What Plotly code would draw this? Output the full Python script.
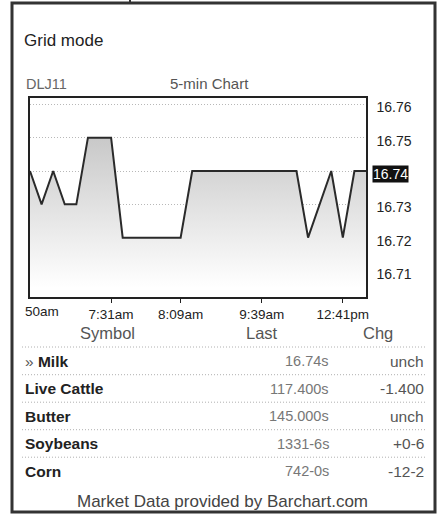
import plotly.graph_objects as go

# ---------------- data ----------------
prices = [16.74, 16.73, 16.74, 16.73, 16.73, 16.75, 16.75, 16.75, 16.72, 16.72,
          16.72, 16.72, 16.72, 16.72, 16.74, 16.74, 16.74, 16.74, 16.74, 16.74,
          16.74, 16.74, 16.74, 16.74, 16.72, 16.73, 16.74, 16.72, 16.74, 16.74]
x_tick_pos = [7, 13, 20, 27]
x_tick_text = ["7:31am", "8:09am", "9:39am", "12:41pm"]
first_tick_text = "50am"
y_ticks = [16.71, 16.72, 16.73, 16.74, 16.75, 16.76]
last_price = 16.74

symbols = ["Milk", "Live Cattle", "Butter", "Soybeans", "Corn"]
selected_symbol = "Milk"
last_vals = ["16.74s", "117.400s", "145.000s", "1331-6s", "742-0s"]
chg_vals = ["unch", "-1.400", "unch", "+0-6", "-12-2"]

# ---------------- layout helpers ----------------
W, H = 443, 522
L, R, T, B = 30, 366, 98, 297
FONT = "Liberation Sans, Arial, sans-serif"


def px(x):
    return (x - L) / (R - L)


def py(y):
    return (B - y) / (B - T)


xs = list(range(len(prices)))

fig = go.Figure()
fig.add_trace(go.Scatter(
    x=xs, y=prices, mode="lines",
    line=dict(color="#2a2a2a", width=2),
    fill="tozeroy",
    fillgradient=dict(type="vertical", start=16.705, stop=16.752,
                      colorscale=[[0, "rgba(255,255,255,1)"], [1, "#c6c6c6"]]),
    hoverinfo="skip", showlegend=False,
))

ann = []
shapes = []

# first (clipped) x label
ann.append(dict(x=0, xref="x", y=0, yref="paper", yshift=-14, xshift=-7,
                text=first_tick_text, showarrow=False, xanchor="left", yanchor="middle",
                font=dict(family=FONT, size=13.5, color="#222")))

# highlighted last price label
ann.append(dict(x=1, xref="paper", y=last_price, yref="y", xshift=6, yshift=-3,
                text=f"{last_price:.2f}", showarrow=False, xanchor="left", yanchor="middle",
                bgcolor="#111", borderpad=0,
                font=dict(family=FONT, size=14, color="white")))

# titles
ann.append(dict(x=px(22), y=py(40), xref="paper", yref="paper", text="Grid mode",
                showarrow=False, xanchor="left", yanchor="middle",
                font=dict(family=FONT, size=17, color="#222")))
ann.append(dict(x=px(24), y=py(84), xref="paper", yref="paper", text="DLJ11",
                showarrow=False, xanchor="left", yanchor="middle",
                font=dict(family=FONT, size=14.5, color="#666")))
ann.append(dict(x=px(209), y=py(84), xref="paper", yref="paper", text="5-min Chart",
                showarrow=False, xanchor="center", yanchor="middle",
                font=dict(family=FONT, size=15, color="#555")))

# table header
hdr_y = 333
for label, xc in [("Symbol", 107), ("Last", 262), ("Chg", 378)]:
    ann.append(dict(x=px(xc), y=py(hdr_y), xref="paper", yref="paper", text=label,
                    showarrow=False, xanchor="center", yanchor="middle",
                    font=dict(family=FONT, size=16.5, color="#555")))

row0, pitch = 361, 27.5
sep_color = "#b0b0b0"
sep_dash = "1px,2px"
shapes.append(dict(type="line", xref="paper", yref="paper",
                   x0=px(22), x1=px(426), y0=py(hdr_y + 14), y1=py(hdr_y + 14),
                   line=dict(color=sep_color, width=1, dash=sep_dash)))
for i, (s, lv, cv) in enumerate(zip(symbols, last_vals, chg_vals)):
    yc = row0 + i * pitch
    label = f"<b>{s}</b>"
    if s == selected_symbol:
        label = f"<span style='color:#555'>»</span> <b>{s}</b>"
    ann.append(dict(x=px(23), y=py(yc), xref="paper", yref="paper", text=label,
                    showarrow=False, xanchor="left", yanchor="middle",
                    font=dict(family=FONT, size=15.5, color="#222")))
    ann.append(dict(x=px(331), y=py(yc), xref="paper", yref="paper", text=lv,
                    showarrow=False, xanchor="right", yanchor="middle",
                    font=dict(family=FONT, size=14.5, color="#777")))
    ann.append(dict(x=px(426), y=py(yc), xref="paper", yref="paper", text=cv,
                    showarrow=False, xanchor="right", yanchor="middle",
                    font=dict(family=FONT, size=15.5, color="#555")))
    if i < len(symbols) - 1:
        ys = yc + 13.7
        shapes.append(dict(type="line", xref="paper", yref="paper",
                           x0=px(22), x1=px(426), y0=py(ys), y1=py(ys),
                           line=dict(color=sep_color, width=1, dash=sep_dash)))

ann.append(dict(x=px(222), y=py(501), xref="paper", yref="paper",
                text="Market Data provided by Barchart.com",
                showarrow=False, xanchor="center", yanchor="middle",
                font=dict(family=FONT, size=17, color="#444")))

# panel border
shapes.append(dict(type="rect", xref="paper", yref="paper",
                   x0=px(12), x1=px(435), y0=py(512), y1=py(3),
                   line=dict(color="#333", width=3), layer="below"))
shapes.append(dict(type="line", xref="paper", yref="paper",
                   x0=px(130), x1=px(130), y0=py(3), y1=py(-2),
                   line=dict(color="#333", width=2)))

fig.update_layout(
    width=W, height=H,
    margin=dict(l=L, r=W - R, t=T, b=H - B, pad=0),
    paper_bgcolor="white", plot_bgcolor="white",
    font=dict(family=FONT),
    annotations=ann, shapes=shapes,
    xaxis=dict(range=[0, len(prices) - 1], tickvals=x_tick_pos, ticktext=x_tick_text,
               ticks="outside", ticklen=4, tickcolor="#222", tickwidth=1,
               showgrid=False, zeroline=False,
               showline=True, linecolor="#222", linewidth=1.5, mirror=True,
               tickfont=dict(family=FONT, size=13.5, color="#222")),
    yaxis=dict(range=[16.7022, 16.7619], side="right", tickvals=y_ticks,
               ticktext=["" if abs(v - last_price) < 1e-9 else f"{v:.2f}" for v in y_ticks],
               ticks="", ticklabelshift=3, ticklabelstandoff=6,
               showgrid=True, gridcolor="#b8b8b8", griddash="1px,2px", gridwidth=1,
               zeroline=False,
               showline=True, linecolor="#222", linewidth=1.5, mirror=True,
               tickfont=dict(family=FONT, size=14, color="#222")),
)

fig.write_html("out.html", config={"displayModeBar": False},
               post_script="document.body.style.margin='0';document.body.style.overflow='hidden';")
